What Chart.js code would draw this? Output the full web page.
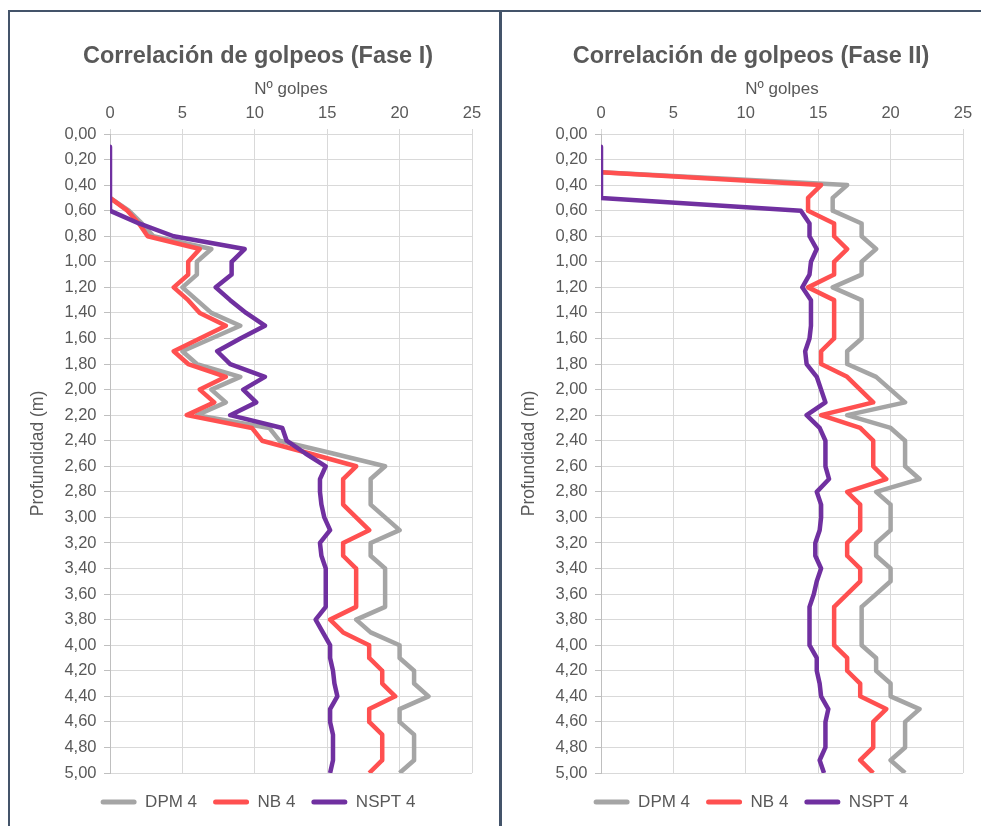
<!DOCTYPE html>
<html><head><meta charset="utf-8">
<script src="https://cdn.jsdelivr.net/npm/chart.js@4"></script>
<style>
html,body{margin:0;padding:0;background:#fff;overflow:hidden;width:981px;height:826px;}
.line{position:absolute;background:#44546A;}
.wrap{position:absolute;}
</style></head><body>
<div class="line" style="left:8px;top:10px;width:973px;height:2px"></div>
<div class="line" style="left:8px;top:10px;width:2px;height:816px"></div>
<div class="line" style="left:499px;top:10px;width:3px;height:816px"></div>
<div class="wrap" style="left:9px;top:13px;width:498px;height:813px"><canvas id="c1"></canvas></div>
<div class="wrap" style="left:502px;top:13px;width:498px;height:813px"><canvas id="c2"></canvas></div>
<script>
// Depth (m) of each reading
const depths = [0.1,0.2,0.3,0.4,0.5,0.6,0.7,0.8,0.9,1.0,1.1,1.2,1.3,1.4,1.5,1.6,1.7,1.8,1.9,2.0,
                2.1,2.2,2.3,2.4,2.5,2.6,2.7,2.8,2.9,3.0,3.1,3.2,3.3,3.4,3.5,3.6,3.7,3.8,3.9,4.0,
                4.1,4.2,4.3,4.4,4.5,4.6,4.7,4.8,4.9,5.0];
// Tick labels
const depthTicks = [0.00,0.20,0.40,0.60,0.80,1.00,1.20,1.40,1.60,1.80,2.00,2.20,2.40,2.60,2.80,3.00,
                    3.20,3.40,3.60,3.80,4.00,4.20,4.40,4.60,4.80,5.00];
const blowTicks = [0,5,10,15,20,25];
const seriesNames = ['DPM 4','NB 4','NSPT 4'];
const titles = ['Correlación de golpeos (Fase I)','Correlación de golpeos (Fase II)'];

// Fase I
const dpm1 = [null,null,null,null,0,1.3,2.2,3.0,7,6,6,5,6,7,9,7,5,6,9,7,
              8,6,11,11.7,15.4,19,18,18,18,19,20,18,18,19,19,19,19,17,18,20,
              20,21,21,22,20,20,21,21,21,20];
const nb1  = [null,null,null,null,0,1.2,2.0,2.6,6.2,5.4,5.4,4.4,5.4,6.2,8.0,6.2,4.4,5.4,8.0,6.2,
              7.2,5.3,9.8,10.5,13.8,17.0,16.1,16.1,16.1,17.0,17.9,16.1,16.1,17.0,17.0,17.0,17.0,15.2,16.1,17.9,
              17.9,18.8,18.8,19.7,17.9,17.9,18.8,18.8,18.8,17.9];
const nspt1 = [0,0,0,0,0,0,2.0,4.4,9.3,8.4,8.4,7.3,8.3,9.4,10.7,9.0,7.4,8.3,10.7,9.2,
               10.1,8.3,11.9,12.2,13.5,14.9,14.5,14.5,14.6,14.8,15.2,14.5,14.6,14.9,14.9,14.9,14.9,14.2,14.7,15.2,
               15.2,15.4,15.5,15.7,15.2,15.2,15.4,15.4,15.4,15.2];
// Fase II
const dpm2 = [null,null,0,17,16,16,18,18,19,18,18,16,18,18,18,18,17,17,19,20,
              21,17,20,21,21,21,22,19,20,20,20,19,19,20,20,19,18,18,18,18,
              19,19,20,20,22,21,21,21,20,21];
const nb2  = [null,null,0,15.2,14.3,14.3,16.1,16.1,17.0,16.1,16.1,14.3,16.1,16.1,16.1,16.1,15.2,15.2,17.0,17.9,
              18.8,15.2,17.9,18.8,18.8,18.8,19.7,17.0,17.9,17.9,17.9,17.0,17.0,17.9,17.9,17.0,16.1,16.1,16.1,16.1,
              17.0,17.0,17.9,17.9,19.7,18.8,18.8,18.8,17.9,18.8];
const nspt2 = [0,0,0,0,0,13.8,14.4,14.4,14.9,14.5,14.4,13.9,14.5,14.5,14.5,14.4,14.1,14.2,14.9,15.2,
               15.5,14.2,15.1,15.5,15.5,15.5,15.75,14.9,15.2,15.2,15.1,14.8,14.8,15.2,14.9,14.7,14.4,14.4,14.4,14.4,
               14.9,14.9,15.1,15.2,15.7,15.5,15.5,15.5,15.1,15.4];

const COLORS = ['#A5A5A5','#FF5050','#7030A0'];
const TXT = '#595959';
const FONT = "'Liberation Sans', Arial, sans-serif";

function pts(vals){
  const out = [];
  vals.forEach((v,i)=>{ if(v!==null) out.push({x:v, y:depths[i]}); });
  return out;
}

function makeChart(id, title, series, rightW, yWidth, yTitlePad){
  return new Chart(document.getElementById(id), {
    type:'scatter',
    data:{ datasets: series.map((s,i)=>({
      label: seriesNames[i], data: pts(s), showLine:true,
      borderColor: COLORS[i], backgroundColor: COLORS[i],
      borderWidth:4.5, borderJoinStyle:'round', borderCapStyle:'butt',
      pointRadius:0, pointHoverRadius:0, tension:0, fill:false,
      order: 3-i
    }))},
    options:{
      responsive:true, maintainAspectRatio:false, animation:false, events:[],
      layout:{padding:{left:0,right:0,top:0,bottom:5.5}},
      plugins:{
        title:{display:true, text:title, color:TXT,
               font:{family:FONT,size:23.5,weight:'bold',lineHeight:1.2},
               padding:{top:29.9,bottom:0}},
        legend:{position:'bottom',
          title:{display:true, text:'', font:{size:1,lineHeight:1}, padding:{top:3.5,bottom:0}},
          labels:{color:TXT, font:{family:FONT,size:17}, boxWidth:36, boxHeight:5, padding:16,
            generateLabels:(chart)=>{
              const items = Chart.defaults.plugins.legend.labels.generateLabels(chart);
              items.forEach(it=>{ it.lineWidth=0; it.strokeStyle='rgba(0,0,0,0)'; it.borderRadius=2.5; });
              items.sort((a,b)=>a.datasetIndex-b.datasetIndex);
              return items;
            }}},
        tooltip:{enabled:false}
      },
      scales:{
        x:{type:'linear', position:'top', min:0, max:25,
           afterBuildTicks:(s)=>{ s.ticks = blowTicks.map(v=>({value:v})); },
           afterFit:(s)=>{ s.height = 62.9; },
           ticks:{color:TXT, font:{family:FONT,size:16.5}, padding:6.1, autoSkip:false, maxRotation:0},
           grid:{color:'#D9D9D9', lineWidth:1, tickLength:5, tickColor:'#D9D9D9'},
           border:{color:'#D9D9D9'},
           title:{display:true, text:'Nº golpes', color:TXT, font:{family:FONT,size:17,lineHeight:1.2}, padding:{top:7.7,bottom:0}}},
        y:{type:'linear', reverse:true, min:0, max:5,
           afterBuildTicks:(s)=>{ s.ticks = depthTicks.map(v=>({value:v})); },
           afterFit:(s)=>{ s.width = yWidth; },
           ticks:{color:TXT, font:{family:FONT,size:16.5}, padding:7.5, autoSkip:false,
                  callback:(v)=>Number(v).toFixed(2).replace('.',',')},
           grid:{color:'#D9D9D9', lineWidth:1, tickLength:6, tickColor:'#BFBFBF'},
           border:{color:'#BFBFBF'},
           title:{display:true, text:'Profundidad (m)', color:TXT, font:{family:FONT,size:17.5,lineHeight:1.2}, padding:{top:yTitlePad,bottom:0}}},
        spacer:{type:'linear', position:'right', display:true, min:0, max:1,
           afterFit:(s)=>{ s.width = rightW; },
           grid:{display:false, drawTicks:false}, ticks:{display:false}, border:{display:false}}
      }
    }
  });
}

makeChart('c1', titles[0], [dpm1,nb1,nspt1], 35, 101, 18.5);
makeChart('c2', titles[1], [dpm2,nb2,nspt2], 37, 99, 16.5);
</script>
</body></html>
